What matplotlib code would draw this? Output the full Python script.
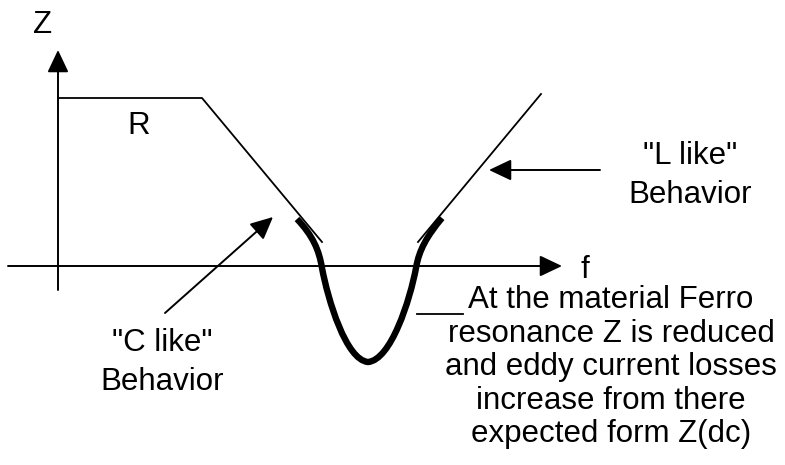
import matplotlib
matplotlib.use("Agg")
import matplotlib.pyplot as plt
from matplotlib.path import Path
from matplotlib.patches import PathPatch, FancyArrowPatch

plt.rcParams['font.family'] = ['Liberation Sans', 'DejaVu Sans']

# diagram coordinates are in image pixels (y grows downwards)
# response: flat R, then falling "C" slope, dip, rising "L" slope
r_x = [58, 202, 322]
r_y = [98, 98, 242]
l_x = [418, 541]
l_y = [242, 94]

# ferro resonance dip, cubic bezier vertices (start + 4 segments)
dip_x = [297, 313, 319, 322, 328, 346, 368, 391, 410, 416, 419, 427, 442]
dip_y = [219, 236, 250, 268, 300, 360, 362, 360, 300, 268, 250, 236, 218]

note_lines = ["At the material Ferro",
              "resonance Z is reduced",
              "and eddy current losses",
              "increase from there",
              "expected form Z(dc)"]

fig = plt.figure(figsize=(7.85, 4.65), dpi=100)
ax = fig.add_axes([0, 0, 1, 1])
ax.set_xlim(0, 785)
ax.set_ylim(465, 0)
ax.axis('off')

head = '-|>,head_length=13.7,head_width=6.5'

def arrow(p0, p1):
    a = FancyArrowPatch(p0, p1, arrowstyle=head, mutation_scale=1,
                        shrinkA=0, shrinkB=0, lw=1.4, color='black')
    ax.add_patch(a)

# axes of the sketch
arrow((58, 290), (58, 50))
arrow((8, 266), (562, 266))
ax.text(43, 33, "Z", fontsize=22.5, ha='center', va='baseline')
ax.text(585, 278, "f", fontsize=22.5, ha='center', va='baseline')

ax.plot(r_x, r_y, color='black', lw=1.3)
ax.plot(l_x, l_y, color='black', lw=1.3)

codes = [Path.MOVETO] + [Path.CURVE4] * (len(dip_x) - 1)
dip = Path(list(zip(dip_x, dip_y)), codes)
ax.add_patch(PathPatch(dip, facecolor='none', edgecolor='black', lw=4.6,
                       capstyle='butt'))

ax.text(138.5, 134, "R", fontsize=22.5, ha='center', va='baseline')

# pointer arrows
arrow((600, 170), (489, 170))
ax.text(690, 164, '"L like"', fontsize=22.5, ha='center', va='baseline')
ax.text(690, 203, 'Behavior', fontsize=22.5, ha='center', va='baseline')

arrow((165, 313), (273, 217))
ax.text(162, 351, '"C like"', fontsize=22.5, ha='center', va='baseline')
ax.text(162, 390, 'Behavior', fontsize=22.5, ha='center', va='baseline')

ax.plot([417, 463], [314, 314], color='black', lw=1.3)
for i, line in enumerate(note_lines):
    ax.text(611, 308 + 33.5 * i, line, fontsize=22.5, ha='center', va='baseline')

fig.savefig('out.png', dpi=100)
